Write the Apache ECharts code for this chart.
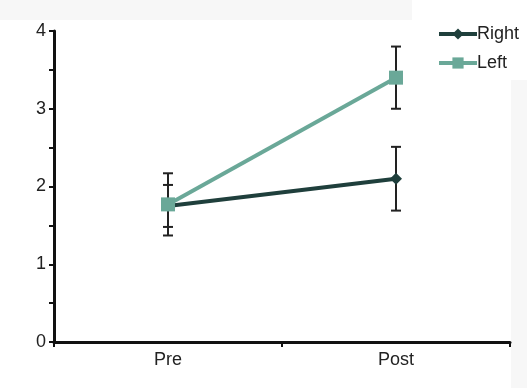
<!DOCTYPE html>
<html><head><meta charset="utf-8">
<script src="https://cdn.jsdelivr.net/npm/echarts@6/dist/echarts.min.js"></script>
<style>html,body{margin:0;padding:0;background:#fff}#c{width:527px;height:388px}</style>
</head><body><div id="c"></div>
<script>
var categories = ['Pre', 'Post'];
var rightMean = [1.75, 2.10];
var rightErr = [0.27, 0.41];
var leftMean = [1.77, 3.40];
var leftErr = [0.40, 0.40];
var yTicks = [0, 1, 2, 3, 4];

var chart = echarts.init(document.getElementById('c'));
function errData(m, e) { return m.map(function (v, i) { return [i, v - e[i], v + e[i]]; }); }
function errSeries(m, e) {
  return {
    type: 'custom', silent: true, z: 1,
    data: errData(m, e),
    renderItem: function (params, api) {
      var x = api.value(0);
      var lo = api.coord([x, api.value(1)]);
      var hi = api.coord([x, api.value(2)]);
      var w = 5;
      var st = { stroke: '#222', lineWidth: 2 };
      return { type: 'group', children: [
        { type: 'line', shape: { x1: hi[0], y1: hi[1], x2: lo[0], y2: lo[1] }, style: st },
        { type: 'line', shape: { x1: hi[0] - w, y1: hi[1], x2: hi[0] + w, y2: hi[1] }, style: st },
        { type: 'line', shape: { x1: lo[0] - w, y1: lo[1], x2: lo[0] + w, y2: lo[1] }, style: st }
      ]};
    }
  };
}
var font = 'Liberation Sans, Arial';
chart.setOption({
  animation: false,
  backgroundColor: '#fff',
  graphic: [
    { type: 'rect', shape: { x: 0, y: 0, width: 412, height: 20 }, style: { fill: '#f7f7f7' }, z: -10 },
    { type: 'rect', shape: { x: 511, y: 80, width: 16, height: 308 }, style: { fill: '#f7f7f7' }, z: -10 }
  ],
  grid: { left: 54, right: 17, top: 31, bottom: 46 },
  legend: {
    orient: 'vertical', left: 432, top: 20, itemWidth: 38, itemHeight: 14, itemGap: 11,
    lineStyle: { width: 4 },
    textStyle: { fontFamily: font, fontSize: 18, color: '#222', padding: [0, 0, 0, -5] },
    data: ['Right', 'Left']
  },
  xAxis: {
    type: 'category', data: categories, boundaryGap: true,
    axisLine: { lineStyle: { color: '#111', width: 3 } },
    axisTick: { show: true, length: 5, lineStyle: { color: '#111', width: 2 } },
    axisLabel: { fontFamily: font, fontSize: 18, color: '#222', margin: 9 },
    splitLine: { show: false }
  },
  yAxis: {
    type: 'value', min: 0, max: 4, interval: 0.5,
    axisLine: { show: true, lineStyle: { color: '#111', width: 3 } },
    axisTick: { show: true, length: 5, lineStyle: { color: '#111', width: 2 } },
    axisLabel: {
      fontFamily: font, fontSize: 18, color: '#222', margin: 8,
      formatter: function (v) { return yTicks.indexOf(v) >= 0 ? String(v) : ''; }
    },
    splitLine: { show: false }
  },
  series: [
    errSeries(leftMean, leftErr),
    errSeries(rightMean, rightErr),
    {
      name: 'Right', type: 'line', data: rightMean, z: 3,
      symbol: 'diamond', symbolSize: 12,
      lineStyle: { color: '#1f3f3c', width: 4 },
      itemStyle: { color: '#1f3f3c' }
    },
    {
      name: 'Left', type: 'line', data: leftMean, z: 4,
      symbol: 'rect', symbolSize: 14,
      lineStyle: { color: '#6aa898', width: 4 },
      itemStyle: { color: '#6aa898' }
    }
  ]
});
</script></body></html>
